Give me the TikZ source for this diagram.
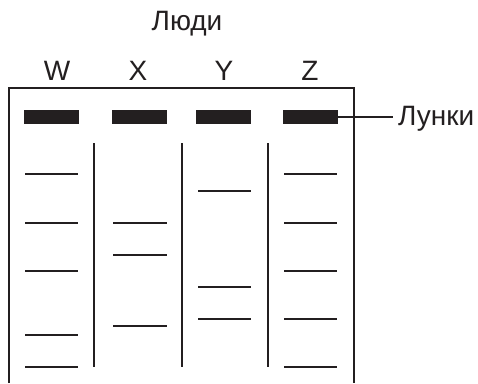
\documentclass[tikz,border=0pt]{standalone}
\usepackage{fontspec}
\setmainfont{Liberation Sans}
\definecolor{ink}{HTML}{231F20}
\tikzset{
  lbl/.style={inner sep=0pt, anchor=base, font=\fontsize{28}{31}\selectfont, text=ink},
  well/.style={fill=ink, draw=none, minimum width=55pt, minimum height=14pt, inner sep=0pt},
  band/.style={draw=ink, line width=2pt},
  frame/.style={draw=ink, line width=2pt},
  lead/.style={draw=ink, line width=1.5pt}
}
\begin{document}
\begin{tikzpicture}[x=1pt,y=-1pt]
\useasboundingbox (0,0) rectangle (478,383);
% titles
\node[lbl] (people) at (187,30) {Люди};
\node[lbl] (lW) at (57,80) {W};
\node[lbl] (lX) at (138,80) {X};
\node[lbl] (lY) at (224,80) {Y};
\node[lbl] (lZ) at (310,80) {Z};
% frame (open at bottom)
\draw[frame] (9,383) -- (9,88) -- (354,88) -- (354,383);
% wells
\node[well] (wW) at (51.5,117) {};
\node[well] (wX) at (139.5,117) {};
\node[well] (wY) at (223.5,117) {};
\node[well] (wZ) at (310.5,117) {};
% label
\node[lbl, anchor=base west] (wells) at (398,125) {Лунки};
\draw[lead] (wZ.east) -- (393,117);
% lane dividers
\draw[band] (94,143) -- (94,367);
\draw[band] (182,143) -- (182,367);
\draw[band] (268,143) -- (268,367);
% bands W
\foreach \y in {174,222.7,270.7,335,366.7} \draw[band] (25,\y) -- (78,\y);
% bands X
\foreach \y in {222.7,254.7,326} \draw[band] (113,\y) -- (167,\y);
% bands Y
\foreach \y in {191,286.7,318.7} \draw[band] (198,\y) -- (251,\y);
% bands Z
\foreach \y in {174,222.7,270.7,318.7,366.7} \draw[band] (284,\y) -- (337,\y);
\end{tikzpicture}
\end{document}
